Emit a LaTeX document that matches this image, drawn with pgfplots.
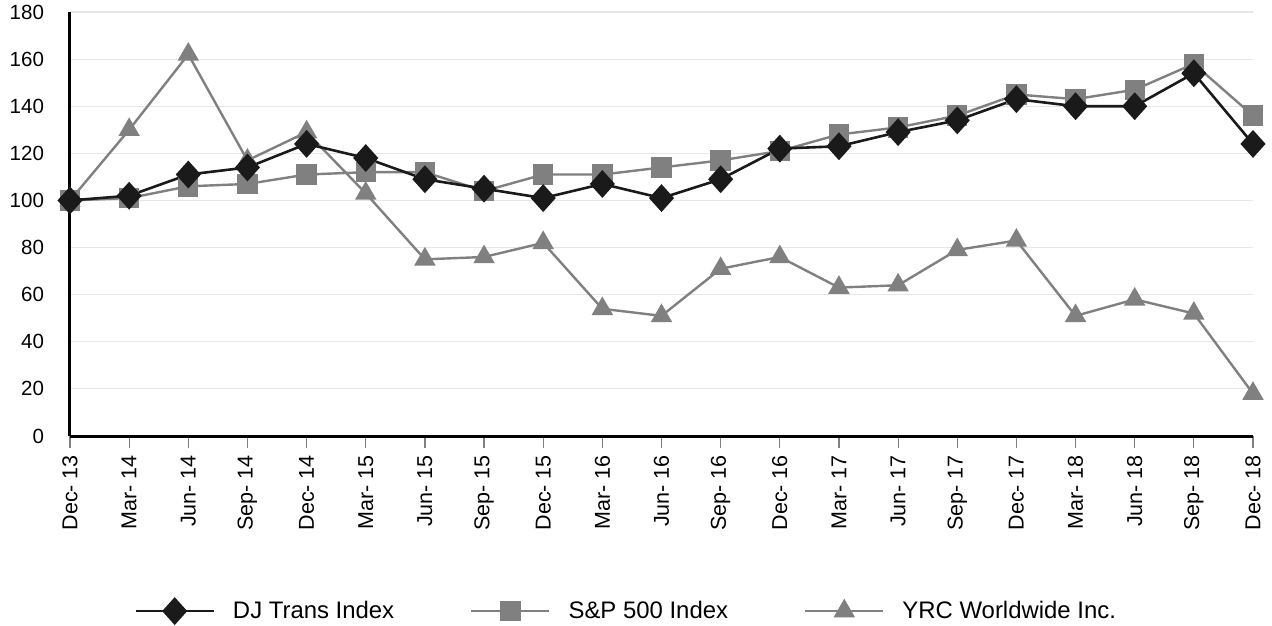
\documentclass[border=0pt]{standalone}
\usepackage{fontspec}
\setmainfont{Liberation Sans}
\usepackage{pgfplots}
\pgfplotsset{compat=1.18}
\definecolor{djc}{HTML}{1A1A1A}
\definecolor{grc}{HTML}{808080}
\definecolor{gridc}{HTML}{E6E6E6}
\begin{document}
\begin{tikzpicture}
\path[use as bounding box] (-35bp,-95bp) rectangle (601bp,218bp);
\begin{axis}[
  at={(0,0)}, anchor=origin,
  scale only axis, width=591.5bp, height=212bp,
  xmin=0, xmax=20, ymin=0, ymax=180,
  axis x line*=bottom, axis y line*=left,
  axis line style={black, line width=1.5bp},
  ytick={0,20,...,180},
  xtick={0,...,20},
  xticklabels={Dec- 13,Mar- 14,Jun- 14,Sep- 14,Dec- 14,Mar- 15,Jun- 15,Sep- 15,Dec- 15,Mar- 16,Jun- 16,Sep- 16,Dec- 16,Mar- 17,Jun- 17,Sep- 17,Dec- 17,Mar- 18,Jun- 18,Sep- 18,Dec- 18},
  ymajorgrids, grid style={gridc, line width=0.6bp},
  major tick length=6bp, tick align=outside,
  x tick style={draw=grc, line width=0.6bp},
  y tick style={draw=none},
  /pgf/number format/assume math mode=true,
  tick label style={font=\fontsize{10.3}{12}\selectfont},
  x tick label style={rotate=90, anchor=east, font=\fontsize{10.8}{12}\selectfont},
  y tick label style={xshift=-3.5bp},
  clip=false,
  legend columns=3,
  legend style={draw=none, fill=none, at={(axis description cs:0.471,-0.413)}, anchor=center,
    font=\fontsize{12}{14}\selectfont,
    /tikz/every odd column/.append style={column sep=7bp},
    /tikz/every even column/.append style={column sep=36bp}},
  legend image code/.code={\draw[mark repeat=2,mark phase=2,#1] plot coordinates {(0bp,0bp) (19.5bp,0bp) (39bp,0bp)};},
]
\addlegendimage{djc, line width=1.3bp, mark=diamond*, mark size=6bp, mark options={xscale=1.2, fill=djc, draw=djc}}
\addlegendentry{DJ Trans Index}
\addlegendimage{grc, line width=1.2bp, mark=square*, mark size=4.5bp, mark options={fill=grc, draw=grc}}
\addlegendentry{S\&P 500 Index}
\addlegendimage{grc, line width=1.2bp, mark=triangle*, mark size=5bp, mark options={fill=grc, draw=grc}}
\addlegendentry{YRC Worldwide Inc.}
% YRC
\addplot[forget plot, grc, line width=1.2bp, mark=triangle*, mark size=5bp, mark options={fill=grc, draw=grc}] coordinates {
(0,100) (1,130) (2,162) (3,117) (4,129) (5,103) (6,75) (7,76) (8,82) (9,54) (10,51)
(11,71) (12,76) (13,63) (14,64) (15,79) (16,83) (17,51) (18,58) (19,52) (20,18)};
% S&P
\addplot[forget plot, grc, line width=1.2bp, mark=square*, mark size=4.5bp, mark options={fill=grc, draw=grc}] coordinates {
(0,100) (1,101) (2,106) (3,107) (4,111) (5,112) (6,112) (7,104) (8,111) (9,111) (10,114)
(11,117) (12,121) (13,128) (14,131) (15,136) (16,145) (17,143) (18,147) (19,158) (20,136)};
% DJ
\addplot[forget plot, djc, line width=1.3bp, mark=diamond*, mark size=6bp, mark options={xscale=1.2, fill=djc, draw=djc}] coordinates {
(0,100) (1,102) (2,111) (3,114) (4,124) (5,118) (6,109) (7,105) (8,101) (9,107) (10,101)
(11,109) (12,122) (13,123) (14,129) (15,134) (16,143) (17,140) (18,140) (19,154) (20,124)};
\end{axis}
\end{tikzpicture}
\end{document}
